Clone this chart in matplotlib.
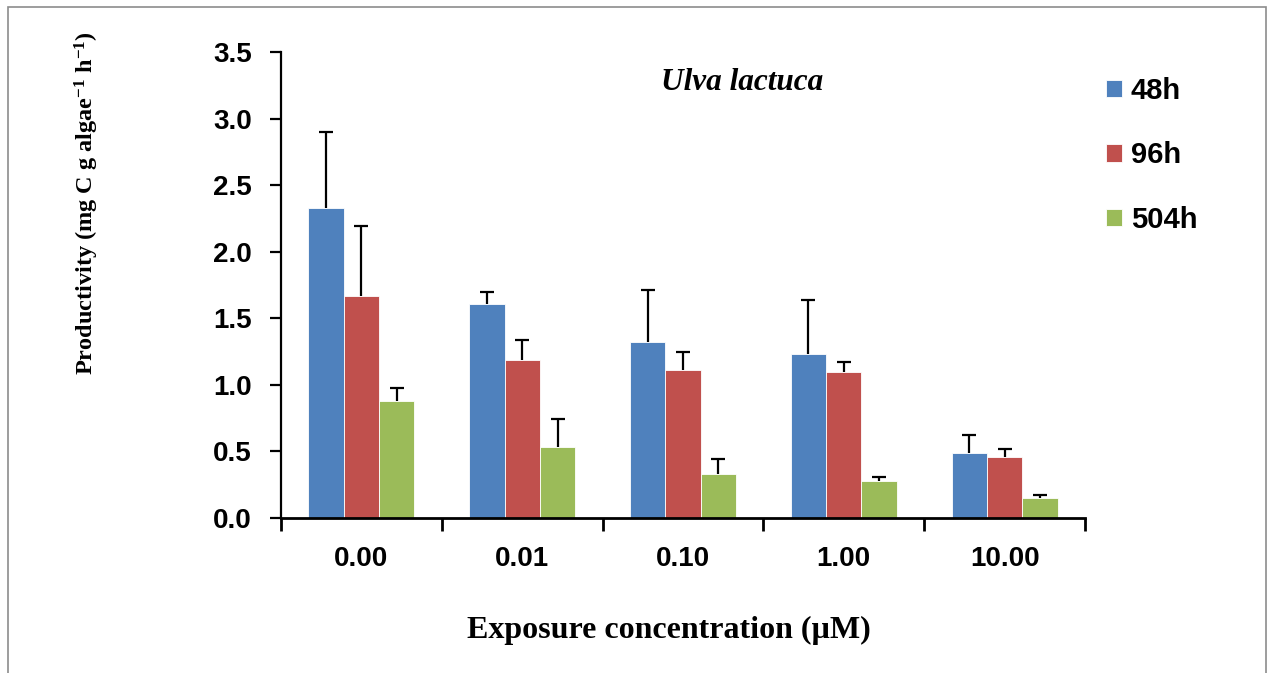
import numpy as np
import matplotlib
matplotlib.use('Agg')
import matplotlib.pyplot as plt
from matplotlib.patches import Rectangle

plt.rcParams['font.family'] = 'Liberation Sans'
plt.rcParams['font.weight'] = 'bold'
plt.rcParams['mathtext.fontset'] = 'custom'
plt.rcParams['mathtext.rm'] = 'Liberation Serif:bold'
plt.rcParams['mathtext.bf'] = 'Liberation Serif:bold'
plt.rcParams['mathtext.default'] = 'rm'

# data
categories = ['0.00', '0.01', '0.10', '1.00', '10.00']
series = ['48h', '96h', '504h']
means_48 = [2.33, 1.61, 1.32, 1.23, 0.49]
means_96 = [1.67, 1.19, 1.11, 1.10, 0.46]
means_504 = [0.88, 0.53, 0.33, 0.28, 0.15]
err_48 = [0.57, 0.09, 0.39, 0.41, 0.13]
err_96 = [0.52, 0.15, 0.14, 0.07, 0.06]
err_504 = [0.10, 0.21, 0.11, 0.03, 0.02]
y_ticks = [0.0, 0.5, 1.0, 1.5, 2.0, 2.5, 3.0, 3.5]

colors = ['#4F81BD', '#C0504D', '#9BBB59']

fig = plt.figure(figsize=(12.7, 6.73), dpi=100)
# grey frame round the whole picture
fig.patches.append(Rectangle((8 / 1270, -0.01), 1258 / 1270, 1 - 7 / 673 + 0.01,
                             transform=fig.transFigure, fill=False,
                             edgecolor='#8c8c8c', linewidth=1.2))

ax = fig.add_axes([281 / 1270, 1 - 518 / 673, (1085 - 281) / 1270, (518 - 52) / 673])

x = np.arange(len(categories))
w = 0.22
all_means = [means_48, means_96, means_504]
all_errs = [err_48, err_96, err_504]
for i, (m, e) in enumerate(zip(all_means, all_errs)):
    pos = x + (i - 1) * w
    ax.bar(pos, m, width=w, color=colors[i], edgecolor='white', linewidth=0.6,
           label=series[i], zorder=2)
    eb = ax.errorbar(pos, m, yerr=[np.zeros(len(m)), e], fmt='none', ecolor='black',
                     elinewidth=1.6, capsize=5, capthick=1.6, zorder=3)
    # only the upper cap is wanted
    for cap in eb[1]:
        if np.allclose(cap.get_ydata(), m):
            cap.set_visible(False)

ax.set_xlim(-0.5, len(categories) - 0.5)
ax.set_ylim(0, 3.5)
ax.set_yticks(y_ticks)
ax.set_yticklabels([f'{t:.1f}' for t in y_ticks])

# x ticks sit between the groups, labels in the middle
ax.set_xticks(np.arange(len(categories) + 1) - 0.5)
ax.set_xticklabels([])
ax.set_xticks(x, minor=True)
ax.set_xticklabels(categories, minor=True)
ax.tick_params(axis='x', which='minor', length=0, pad=20, labelsize=20)
ax.tick_params(axis='x', which='major', length=9, width=2, direction='out')
ax.tick_params(axis='y', length=8, width=1.6, direction='out', pad=13, labelsize=20)

ax.spines['top'].set_visible(False)
ax.spines['right'].set_visible(False)
ax.spines['left'].set_linewidth(1.6)
ax.spines['bottom'].set_linewidth(2)

fig.text(87 / 1270, 1 - 203 / 673,
         'Productivity (mg C g algae$^{-1}$ h$^{-1}$)', rotation=90,
         ha='center', va='center', fontfamily='Liberation Serif',
         fontweight='bold', fontsize=17.5)
fig.text(669 / 1270, 1 - 630 / 673, 'Exposure concentration (\u00b5M)',
         ha='center', va='center', fontfamily='Liberation Serif',
         fontweight='bold', fontsize=23)
fig.text(742 / 1270, 1 - 83 / 673, 'Ulva lactuca', ha='center', va='center',
         fontfamily='Liberation Serif', fontstyle='italic', fontweight='bold',
         fontsize=22.5)

fig.legend(loc='upper left', bbox_to_anchor=(1100 / 1270, 1 - 71 / 673),
           frameon=False, prop={'family': 'Liberation Sans', 'weight': 'bold', 'size': 21},
           handlelength=0.55, handleheight=0.55, handletextpad=0.3, labelspacing=1.25,
           borderpad=0.2, borderaxespad=0)

fig.savefig('out.png', dpi=100)
